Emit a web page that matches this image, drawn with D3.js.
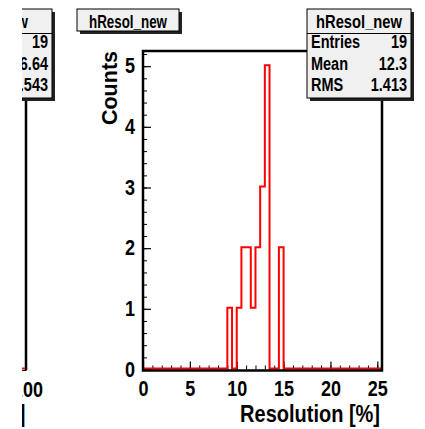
<!DOCTYPE html>
<html>
<head>
<meta charset="utf-8">
<script src="https://cdn.jsdelivr.net/npm/d3@7"></script>
<style>
  body { margin: 0; background: #fff; }
  text { font-family: "Liberation Sans", Arial, sans-serif; font-weight: bold; fill: #000; }
</style>
</head>
<body>
<div id="chart"></div>
<script>
// histogram contents (bins of 0.5 %, all other bins empty)
const binLow = [9, 9.5, 10, 10.5, 11, 11.5, 12, 12.5, 13, 13.5, 14, 14.5];
const counts = [1, 0, 1, 2, 2, 1, 2, 3, 5, 0, 0, 2];
const binWidth = 0.5;
const xTicks = [0, 5, 10, 15, 20, 25];
const yTicks = [0, 1, 2, 3, 4, 5];
const histName = "hResol_new";
const statNames = ["Entries", "Mean", "RMS"];
const statValues = ["19", "12.3", "1.413"];
// the pad on the left is cut off by the picture edge
const leftStatValues = ["19", "16.64", "1.543"];
const leftLastTick = "100";

const width = 425,
    height = 429,
    margin = ({top: 51, right: 43, bottom: 59.5, left: 143}),
    sy = 1.18,   // text in the original is stretched vertically
    statSize = 14.5,
    statSy = 1.22;

const svg = d3.select("#chart")
    .append("svg")
    .attr("width", width)
    .attr("height", height)
    .attr("viewBox", [0, 0, width, height]);

const x = d3.scaleLinear()
    .domain([0, 25.5])
    .range([margin.left, width - margin.right]);

const y = d3.scaleLinear()
    .domain([0, 5.25])
    .range([height - margin.bottom, margin.top]);

// minor ticks
svg.append("g")
    .attr("transform", `translate(0,${y(0)})`)
    .call(d3.axisBottom(x).tickValues(d3.range(0, 26, 1)).tickSize(-4).tickFormat(""))
    .call(g => g.select(".domain").remove())
    .call(g => g.selectAll("line").attr("stroke-width", 1));

svg.append("g")
    .attr("transform", `translate(${x(0)},0)`)
    .call(d3.axisLeft(y).tickValues(d3.range(0, 5.21, 0.2)).tickSize(-4).tickFormat(""))
    .call(g => g.select(".domain").remove())
    .call(g => g.selectAll("line").attr("stroke-width", 1));

// major ticks + labels
const xAxis = g => g
    .attr("transform", `translate(0,${y(0)})`)
    .call(d3.axisBottom(x).tickValues(xTicks).tickSize(-8).tickFormat(d3.format("d")))
    .call(g => g.select(".domain").remove())
    .call(g => g.selectAll("line").attr("stroke-width", 1.2))
    .call(g => g.selectAll("text")
        .attr("dy", null)
        .attr("y", 27 / sy)
        .attr("transform", `scale(1,${sy})`)
        .attr("font-size", 18));

const yAxis = g => g
    .attr("transform", `translate(${x(0)},0)`)
    .call(d3.axisLeft(y).tickValues(yTicks).tickSize(-8).tickFormat(d3.format("d")))
    .call(g => g.select(".domain").remove())
    .call(g => g.selectAll("line").attr("stroke-width", 1.2))
    .call(g => g.selectAll("text")
        .attr("dy", null)
        .attr("x", -8)
        .attr("y", 6.5 / sy)
        .attr("transform", `scale(1,${sy})`)
        .attr("font-size", 18));

svg.append("g").call(xAxis);
svg.append("g").call(yAxis);

// histogram outline, zero line included
const pts = [[0, 0]].concat(binLow.map((b, i) => [b, counts[i]]));
pts.push([binLow[binLow.length - 1] + binWidth, 0]);
pts.push([x.domain()[1], 0]);

const line = d3.line()
    .x(d => x(d[0]))
    .y(d => y(d[1]) - 1)
    .curve(d3.curveStepAfter);

svg.append("path")
    .attr("fill", "none")
    .attr("stroke", "#ff0000")
    .attr("stroke-width", 2)
    .attr("d", line(pts));

// frame
svg.append("rect")
    .attr("x", x(0))
    .attr("y", margin.top)
    .attr("width", x.range()[1] - x(0))
    .attr("height", y(0) - margin.top + 1)
    .attr("fill", "none")
    .attr("stroke", "#000")
    .attr("stroke-width", 2.5);

// axis titles
svg.append("text")
    .attr("transform", `translate(${width - margin.right - 2},${422}) scale(1,${sy})`)
    .attr("text-anchor", "end")
    .attr("font-size", 20)
    .text("Resolution [%]");

svg.append("text")
    .attr("transform", `translate(117,${margin.top}) rotate(-90)`)
    .attr("text-anchor", "end")
    .attr("font-size", 21.5)
    .text("Counts");

// boxes with shadow
function box(x0, y0, w, h) {
    svg.append("rect")
        .attr("x", x0 + 3).attr("y", y0 + 3)
        .attr("width", w).attr("height", h)
        .attr("fill", "#222");
    svg.append("rect")
        .attr("x", x0).attr("y", y0)
        .attr("width", w).attr("height", h)
        .attr("fill", "#f0f0f0")
        .attr("stroke", "#000")
        .attr("stroke-width", 1);
}

// title box
box(77, 9, 102, 22);
svg.append("text")
    .attr("x", 128).attr("y", 28)
    .attr("text-anchor", "middle")
    .attr("font-size", 18)
    .attr("textLength", 78)
    .attr("lengthAdjust", "spacingAndGlyphs")
    .text(histName);

// stats box
function statsBox(x0, values) {
    const w = 104;
    box(x0, 9, w, 89);
    svg.append("line")
        .attr("x1", x0).attr("x2", x0 + w)
        .attr("y1", 33.5).attr("y2", 33.5)
        .attr("stroke", "#000");
    svg.append("text")
        .attr("x", x0 + w / 2).attr("y", 28)
        .attr("text-anchor", "middle")
        .attr("font-size", 18)
        .attr("textLength", 86)
        .attr("lengthAdjust", "spacingAndGlyphs")
        .text(histName);
    values.forEach((v, i) => {
        svg.append("text")
            .attr("transform", `translate(${x0 + 4},${48 + i * 21.5}) scale(1,${statSy})`)
            .attr("font-size", statSize)
            .text(statNames[i]);
        svg.append("text")
            .attr("transform", `translate(${x0 + w - 4},${48 + i * 21.5}) scale(1,${statSy})`)
            .attr("text-anchor", "end")
            .attr("font-size", statSize)
            .text(v);
    });
}

statsBox(307, statValues);

// left pad, clipped at the picture edge
svg.append("clipPath")
    .attr("id", "leftclip")
    .append("rect")
    .attr("x", 22).attr("y", 0)
    .attr("width", 50).attr("height", height);

svg.append("clipPath")
    .attr("id", "tickclip")
    .append("rect")
    .attr("x", 22.5).attr("y", 0)
    .attr("width", 50).attr("height", height);

const left = svg.append("g").attr("clip-path", "url(#leftclip)");

left.append("line")
    .attr("x1", 26).attr("x2", 26)
    .attr("y1", margin.top).attr("y2", y(0) + 1)
    .attr("stroke", "#000").attr("stroke-width", 2.5);
left.append("line")
    .attr("x1", 0).attr("x2", 25)
    .attr("y1", y(0) - 1).attr("y2", y(0) - 1)
    .attr("stroke", "#ff0000").attr("stroke-width", 2);
left.append("line")
    .attr("x1", 0).attr("x2", 26)
    .attr("y1", y(0) + 1).attr("y2", y(0) + 1)
    .attr("stroke", "#000").attr("stroke-width", 1);

left.append("rect").attr("x", -52).attr("y", 12).attr("width", 107).attr("height", 89).attr("fill", "#222");
left.append("rect").attr("x", -55).attr("y", 9).attr("width", 107).attr("height", 89)
    .attr("fill", "#f0f0f0").attr("stroke", "#000");
left.append("line").attr("x1", -55).attr("x2", 52).attr("y1", 33.5).attr("y2", 33.5).attr("stroke", "#000");
left.append("text")
    .attr("x", -15).attr("y", 28)
    .attr("text-anchor", "middle")
    .attr("font-size", 18)
    .attr("textLength", 86)
    .attr("lengthAdjust", "spacingAndGlyphs")
    .text(histName);
leftStatValues.forEach((v, i) => {
    left.append("text")
        .attr("transform", `translate(48,${48 + i * 21.5}) scale(1,${statSy})`)
        .attr("text-anchor", "end")
        .attr("font-size", statSize)
        .text(v);
});
svg.append("g")
    .attr("clip-path", "url(#tickclip)")
    .append("text")
    .attr("transform", `translate(43,${y(0) + 27}) scale(1,${sy})`)
    .attr("text-anchor", "end")
    .attr("font-size", 18)
    .text(leftLastTick);
left.append("text")
    .attr("transform", `translate(25.5,422) scale(1,${sy})`)
    .attr("text-anchor", "end")
    .attr("font-size", 20)
    .text("]");
</script>
</body>
</html>
